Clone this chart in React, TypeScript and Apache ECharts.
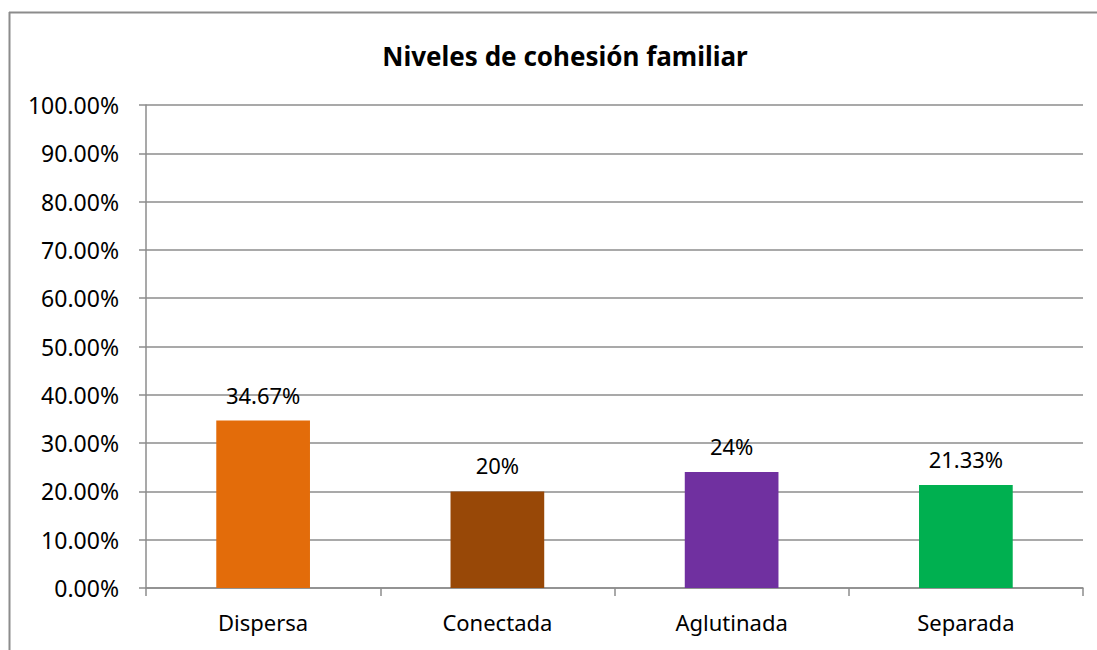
import React, { useEffect, useRef } from "react";
import * as echarts from "echarts";

const title = "Niveles de cohesión familiar";
const categories = ["Dispersa", "Conectada", "Aglutinada", "Separada"];
const values = [34.67, 20, 24, 21.33];
const valueLabels = ["34.67%", "20%", "24%", "21.33%"];
const barColors = ["#E36C0A", "#984807", "#7030A0", "#00B050"];

export default function App() {
  const ref = useRef<HTMLDivElement>(null);
  useEffect(() => {
    if (!ref.current) return;
    const chart = echarts.init(ref.current, undefined, { renderer: "svg" });
    const font = "'Noto Sans', sans-serif";
    chart.setOption({
      animation: false,
      backgroundColor: "#ffffff",
      textStyle: { fontFamily: font },
      title: {
        text: title,
        left: 560,
        top: 38,
        textAlign: "center",
        textStyle: { fontFamily: font, fontSize: 26, fontWeight: "bold", color: "#000" },
      },
      graphic: [
        { type: "line", shape: { x1: 9.5, y1: 12, x2: 9.5, y2: 650 }, style: { stroke: "#8c8c8c", lineWidth: 2 } },
        { type: "line", shape: { x1: 9, y1: 12.5, x2: 1097, y2: 12.5 }, style: { stroke: "#8c8c8c", lineWidth: 2 } },
      ],
      grid: { left: 146, right: 14, top: 105, bottom: 62, containLabel: false },
      xAxis: {
        type: "category",
        data: categories,
        axisLine: { show: true, lineStyle: { color: "#8c8c8c", width: 1.5 } },
        axisTick: { show: true, length: 8, lineStyle: { color: "#8c8c8c", width: 1.5 } },
        axisLabel: { margin: 23, fontSize: 22, color: "#000", fontFamily: font },
      },
      yAxis: {
        type: "value",
        min: 0,
        max: 100,
        interval: 10,
        axisLine: { show: true, lineStyle: { color: "#8c8c8c", width: 1.5 } },
        axisTick: { show: true, length: 7, lineStyle: { color: "#8c8c8c", width: 1.5 } },
        splitLine: { show: true, lineStyle: { color: "#8c8c8c", width: 1.5 } },
        axisLabel: {
          margin: 27,
          fontSize: 23,
          color: "#000",
          fontFamily: font,
          formatter: (v: number) => v.toFixed(2) + "%",
        },
      },
      series: [
        {
          type: "bar",
          barWidth: "40%",
          data: values.map((v, i) => ({ value: v, itemStyle: { color: barColors[i] } })),
          label: {
            show: true,
            position: "top",
            distance: 15,
            fontSize: 22,
            color: "#000",
            fontFamily: font,
            formatter: (p: any) => valueLabels[p.dataIndex],
          },
        },
      ],
    });
    return () => chart.dispose();
  }, []);
  return (
    <div
      ref={ref}
      style={{ position: "fixed", left: 0, top: 0, width: 1097, height: 650 }}
    />
  );
}
